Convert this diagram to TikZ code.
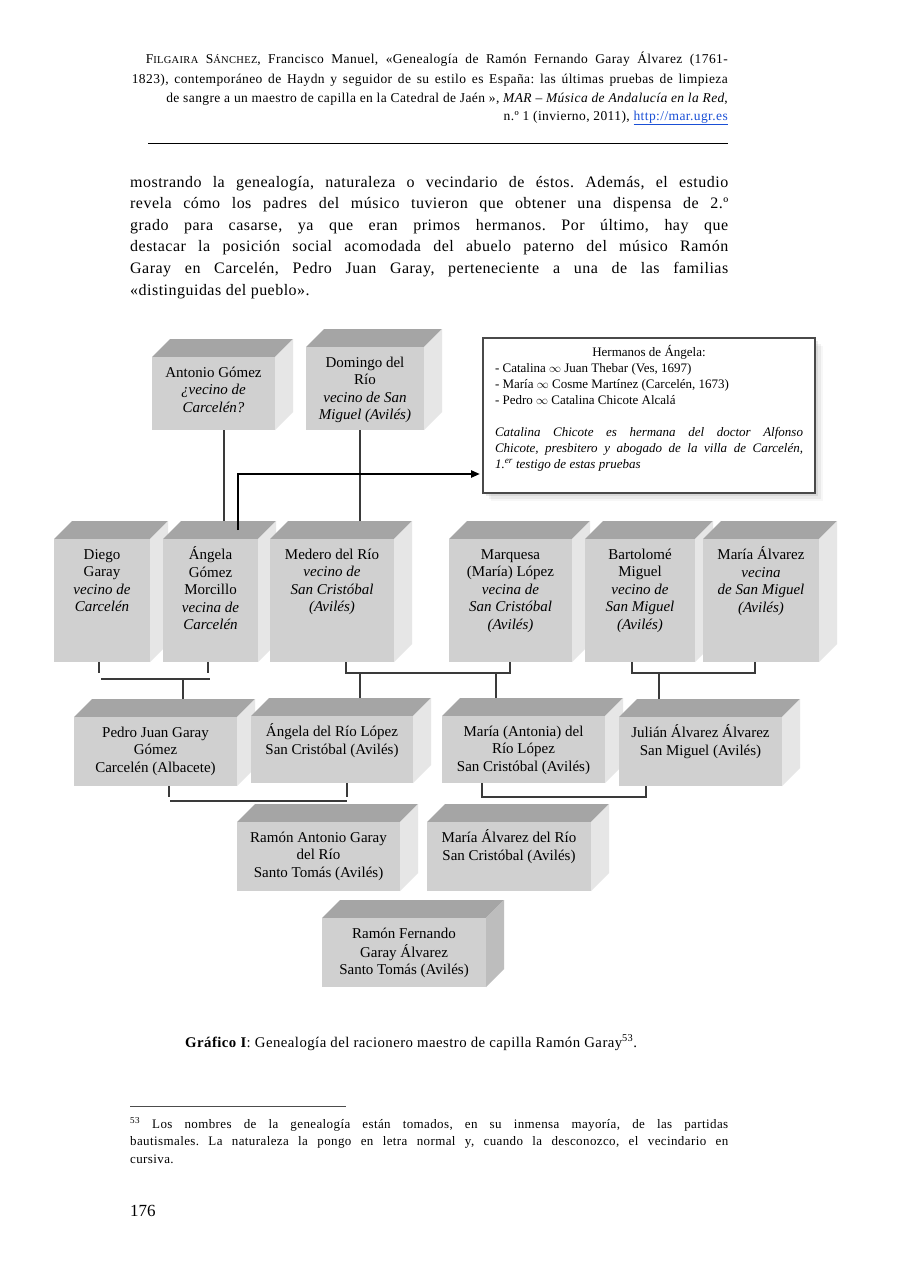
\documentclass[tikz,border=0pt]{standalone}
\usepackage{fontspec}
\setmainfont{Liberation Serif}
\newfontfamily\spacedfont[LetterSpace=3]{Liberation Serif}
\usetikzlibrary{arrows.meta,calc,shadows}
\frenchspacing
\definecolor{cfront}{HTML}{D0D0D0}
\definecolor{ctop}{HTML}{A5A5A5}
\definecolor{cside}{HTML}{E6E6E6}
\definecolor{cdarkside}{HTML}{BDBDBD}
\definecolor{clink}{HTML}{3A3A3A}
\definecolor{cborder}{HTML}{4A4A4A}
\definecolor{curl}{HTML}{1A4FD6}
\def\dep{18}
\def\bodyw{598pt}

% 3-d family box: [side colour]{name}{x}{y}{w}{h}{text}
\newcommand\famcube[7][cside]{%
  \fill[ctop] (#3,#4) -- ++(\dep,-\dep) -- ++(#5,0) -- ++(-\dep,\dep) -- cycle;
  \fill[#1] (#3+#5,#4) -- ++(\dep,-\dep) -- ++(0,#6) -- ++(-\dep,\dep) -- cycle;
  \coordinate (#2-t) at (#3+\dep,#4-\dep);
  \node[cubefront, anchor=north west] (#2) at (#3,#4)
    {\parbox[t][#6pt][t]{#5pt}{\vspace*{8pt}\centering\strut #7}};
}

\begin{document}
\begin{tikzpicture}[x=1pt, y=-1pt, line cap=butt,
    cubefront/.style={fill=cfront, inner sep=0pt, outer sep=0pt,
                      font=\fontsize{15}{17.5}\selectfont},
    famline/.style={draw=clink, line width=1.1},
    arrowline/.style={draw=black, line width=2.6,
                      -{Triangle[length=9pt,width=7pt]}},
    hermbox/.style={draw=cborder, line width=1.1, fill=white,
                    inner sep=0pt, outer sep=0pt,
                    drop shadow={shadow xshift=8pt, shadow yshift=-8pt, opacity=0.06},
                    drop shadow={shadow xshift=6pt, shadow yshift=-6pt, opacity=0.10},
                    drop shadow={shadow xshift=3pt, shadow yshift=-3pt, opacity=0.16},
                    font=\fontsize{13}{16}\selectfont},
    hdr/.style={anchor=base east, inner sep=0pt,
                font=\spacedfont\fontsize{13.5}{19}\selectfont},
    bodyline/.style={anchor=base west, inner sep=0pt,
                     font=\spacedfont\fontsize{16}{21.6}\selectfont},
    noteline/.style={anchor=base west, inner sep=0pt,
                     font=\spacedfont\fontsize{13}{17.5}\selectfont}]

\fill[white] (0,0) rectangle (900,1274);
\useasboundingbox (0,0) rectangle (900,1274);

% =================== running head ===================
\node[hdr] (hdr1) at (728,63) {\makebox[582pt][s]{F{\fontsize{10.5}{12}\selectfont ILGAIRA}
  S{\fontsize{10.5}{12}\selectfont ÁNCHEZ}, Francisco Manuel, «Genealogía de Ramón Fernando Garay Álvarez (1761-}};
\node[hdr] (hdr2) at (728,83) {\makebox[596pt][s]{1823), contemporáneo de Haydn y seguidor de su estilo es España: las últimas pruebas de limpieza}};
\node[hdr] (hdr3) at (728,102) {de sangre a un maestro de capilla en la Catedral de Jaén », \textit{MAR – Música de Andalucía en la Red},};
\node[hdr] (hdr4) at (728,120) {n.º 1 (invierno, 2011), \textcolor{curl}{\underline{http://mar.ugr.es}}};
\draw[line width=0.8] (148,143) -- (728,143);

% =================== paragraph ===================
\node[bodyline] (body1) at (130,187) {\makebox[\bodyw][s]{mostrando la genealogía, naturaleza o vecindario de éstos. Además, el estudio}};
\node[bodyline] (body2) at (130,208.6) {\makebox[\bodyw][s]{revela cómo los padres del músico tuvieron que obtener una dispensa de 2.º}};
\node[bodyline] (body3) at (130,230.2) {\makebox[\bodyw][s]{grado para casarse, ya que eran primos hermanos. Por último, hay que}};
\node[bodyline] (body4) at (130,251.8) {\makebox[\bodyw][s]{destacar la posición social acomodada del abuelo paterno del músico Ramón}};
\node[bodyline] (body5) at (130,273.4) {\makebox[\bodyw][s]{Garay en Carcelén, Pedro Juan Garay, perteneciente a una de las familias}};
\node[bodyline] (body6) at (130,295) {«distinguidas del pueblo».};

% =================== genealogy boxes ===================
% grandparents
\famcube{antonio}{152}{357}{123}{73}{Antonio Gómez\\ \textit{¿vecino de}\\ \textit{Carcelén?}}
\famcube{domingo}{306}{347}{118}{83}{Domingo del\\ Río\\ \textit{vecino de San}\\ \textit{Miguel (Avilés)}}
\famcube{diego}{54}{539}{96}{123}{Diego\\ Garay\\ \textit{vecino de}\\ \textit{Carcelén}}
\famcube{angela}{163}{539}{95}{123}{Ángela\\ Gómez\\ Morcillo\\ \textit{vecina de}\\ \textit{Carcelén}}
\famcube{medero}{270}{539}{124}{123}{Medero del Río\\ \textit{vecino de}\\ \textit{San Cristóbal}\\ \textit{(Avilés)}}
\famcube{marquesa}{449}{539}{123}{123}{Marquesa\\ (María) López\\ \textit{vecina de}\\ \textit{San Cristóbal}\\ \textit{(Avilés)}}
\famcube{bartolome}{585}{539}{110}{123}{Bartolomé\\ Miguel\\ \textit{vecino de}\\ \textit{San Miguel}\\ \textit{(Avilés)}}
\famcube{mariaa}{703}{539}{116}{123}{María Álvarez\\ \textit{vecina}\\ \textit{de San Miguel}\\ \textit{(Avilés)}}
% parents
\famcube{pedro}{74}{717}{163}{69}{Pedro Juan Garay\\ Gómez\\ Carcelén (Albacete)}
\famcube{angelario}{251}{716}{162}{67}{Ángela del Río López\\ San Cristóbal (Avilés)}
\famcube{mariaant}{442}{716}{163}{67}{María (Antonia) del\\ Río López\\ San Cristóbal (Avilés)}
\famcube{julian}{619}{717}{163}{69}{Julián Álvarez Álvarez\\ San Miguel (Avilés)}
% the couple and the musician
\famcube{ramona}{237}{822}{163}{69}{Ramón Antonio Garay\\ del Río\\ Santo Tomás (Avilés)}
\famcube{mariaadr}{427}{822}{164}{69}{María Álvarez del Río\\ San Cristóbal (Avilés)}
\famcube[cdarkside]{ramonf}{322}{918}{164}{69}{Ramón Fernando\\ Garay Álvarez\\ Santo Tomás (Avilés)}

% brothers and sisters of Ángela
\node[hermbox, anchor=north west] (herm) at (483,338)
  {\parbox[t][155pt][t]{332pt}{\vspace*{7pt}\centering
   \parbox{308pt}{\raggedright\strut\makebox[308pt][c]{Hermanos de Ángela:}\\
   - Catalina $\infty$ Juan Thebar (Ves, 1697)\\
   - María $\infty$ Cosme Martínez (Carcelén, 1673)\\
   - Pedro $\infty$ Catalina Chicote Alcalá\\[16pt]
   \itshape\makebox[308pt][s]{Catalina Chicote es hermana del doctor Alfonso}\\
   \makebox[308pt][s]{Chicote, presbitero y abogado de la villa de Carcelén,}\\
   1.\textsuperscript{er} testigo de estas pruebas}}};

% =================== connectors ===================
\draw[famline] ([xshift=10.5]antonio.south) -- ([xshift=10.5]antonio.south |- angela-t);
\draw[famline] ([xshift=-5]domingo.south) -- ([xshift=-5]domingo.south |- medero-t);
\draw[arrowline] ([xshift=27.5,yshift=9]angela.north) |- ([xshift=-3,yshift=19]herm.south west);

% Diego + Ángela
\draw[famline] ([xshift=-3]diego.south) -- ++(0,11);
\draw[famline] ([xshift=-2.5]angela.south) -- ++(0,11);
\draw[famline] ([xshift=-1,yshift=-17]diego.south) -- ++(109,0);
\draw[famline] ([xshift=27.5,yshift=18]pedro.north) -- ++(0,-20);
% Medero + Marquesa
\draw[famline] ([xshift=14]medero.south) |- ([xshift=-0.5,yshift=-11]marquesa.south)
  -- ([xshift=-0.5]marquesa.south);
\draw[famline] ([xshift=28,yshift=18]angelario.north) -- ++(0,-25);
\draw[famline] ([xshift=-27.5,yshift=18]mariaant.north) -- ++(0,-25);
% Bartolomé + María Álvarez
\draw[famline] ([xshift=-8]bartolome.south) |- ([xshift=-6,yshift=-11]mariaa.south)
  -- ([xshift=-6]mariaa.south);
\draw[famline] ([xshift=-41.5,yshift=18]julian.north) -- ++(0,-26);
% Pedro Juan + Ángela del Río
\draw[famline] ([xshift=13.5]pedro.south) -- ++(0,11);
\draw[famline] ([xshift=15]angelario.south) -- ++(0,14);
\draw[famline] ([xshift=14.5,yshift=-15]pedro.south) -- ++(177,0);
% María (Antonia) + Julián
\draw[famline] ([xshift=-41.5]mariaant.south) |- ([xshift=-54.5,yshift=-11]julian.south)
  -- ([xshift=-54.5]julian.south);

% =================== caption, footnote, folio ===================
\node[anchor=base west, inner sep=0pt, font=\spacedfont\fontsize{14.8}{17}\selectfont] (caption) at (185,1047)
  {\textbf{Gráfico I}: Genealogía del racionero maestro de capilla Ramón Garay\textsuperscript{53}.};
\draw[line width=0.8, black!70] (130,1106) -- (346,1106);
\node[noteline] (note1) at (130,1128) {\makebox[\bodyw][s]{\textsuperscript{53} Los nombres de la genealogía están tomados, en su inmensa mayoría, de las partidas}};
\node[noteline] (note2) at (130,1145.5) {\makebox[\bodyw][s]{bautismales. La naturaleza la pongo en letra normal y, cuando la desconozco, el vecindario en}};
\node[noteline] (note3) at (130,1163) {cursiva.};
\node[anchor=base west, inner sep=0pt, font=\fontsize{17}{20}\selectfont] (folio) at (130,1216) {176};

\end{tikzpicture}
\end{document}
